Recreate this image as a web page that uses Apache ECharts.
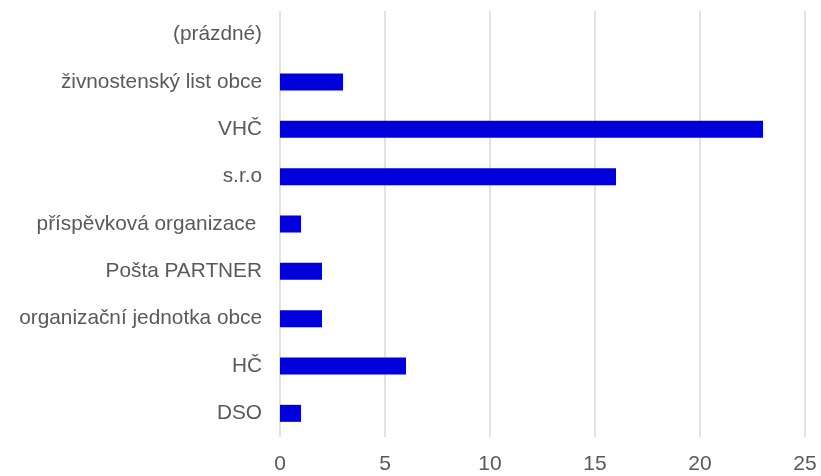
<!DOCTYPE html>
<html>
<head>
<meta charset="utf-8">
<script src="https://cdn.jsdelivr.net/npm/echarts@6/dist/echarts.min.js"></script>
<style>
html,body{margin:0;padding:0;background:#fff;}
#chart{width:821px;height:476px;}
</style>
</head>
<body>
<div id="chart"></div>
<script>
var categories = ['DSO', 'HČ', 'organizační jednotka obce', 'Pošta PARTNER', 'příspěvková organizace ', 's.r.o', 'VHČ', 'živnostenský list obce', '(prázdné)'];
var values = [1, 6, 2, 2, 1, 16, 23, 3, null];
var xTicks = { min: 0, max: 25, interval: 5 };

var chart = echarts.init(document.getElementById('chart'), null, { renderer: 'canvas' });
chart.setOption({
  animation: false,
  grid: { left: 280, right: 16, top: 11, bottom: 39, containLabel: false },
  xAxis: {
    type: 'value',
    min: xTicks.min, max: xTicks.max, interval: xTicks.interval,
    axisLine: { show: false },
    axisTick: { show: false },
    splitLine: { show: true, lineStyle: { color: '#d9d9d9', width: 1.5 } },
    axisLabel: { color: '#595959', fontSize: 21, fontFamily: 'Liberation Sans, Arial, sans-serif', margin: 17 }
  },
  yAxis: {
    type: 'category',
    data: categories,
    axisLine: { show: false },
    axisTick: { show: false },
    splitLine: { show: false },
    axisLabel: { color: '#595959', fontSize: 20.8, fontFamily: 'Liberation Sans, Arial, sans-serif', margin: 18 }
  },
  series: [{
    type: 'bar',
    data: values,
    barWidth: '36%',
    itemStyle: { color: '#0000DC' }
  }]
});
</script>
</body>
</html>
